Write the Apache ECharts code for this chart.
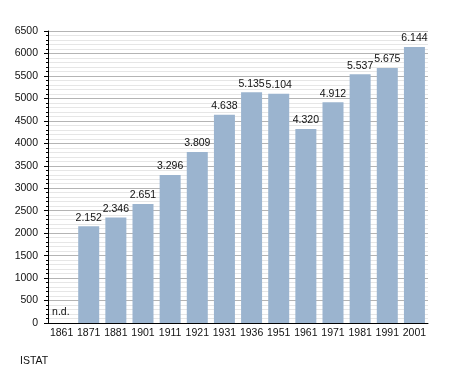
<!DOCTYPE html>
<html><head><meta charset="utf-8">
<script src="https://cdn.jsdelivr.net/npm/echarts@6/dist/echarts.min.js"></script>
<style>html,body{margin:0;padding:0;background:#fff}#c{width:455px;height:373px}</style>
</head><body><div id="c"></div>
<script>
const years = ['1861','1871','1881','1901','1911','1921','1931','1936','1951','1961','1971','1981','1991','2001'];
const population = [null, 2152, 2346, 2651, 3296, 3809, 4638, 5135, 5104, 4320, 4912, 5537, 5675, 6144];
const yTicks = {min: 0, max: 6500, interval: 500};
const source = 'ISTAT';

function fmt(v){ return String(v).replace(/\B(?=(\d{3})+(?!\d))/g, '.'); }

const chart = echarts.init(document.getElementById('c'));
const data = population.map(v => v === null
  ? {value: 0, label: {show: true, formatter: 'n.d.', position: 'insideBottomLeft', offset: [-2, -2]}}
  : v);
chart.setOption({
  animation: false,
  grid: {left: 48, right: 27, top: 31, bottom: 50},
  xAxis: {
    type: 'category', data: years,
    axisLine: {lineStyle: {color: '#000', width: 1}},
    axisTick: {show: false},
    axisLabel: {color: '#111', fontFamily: 'Liberation Sans, Arial, sans-serif', fontSize: 10.5, margin: 5, interval: 0}
  },
  yAxis: {
    type: 'value', min: yTicks.min, max: yTicks.max, interval: yTicks.interval,
    axisLine: {show: true, lineStyle: {color: '#000', width: 1}},
    axisTick: {show: true, length: 4, lineStyle: {color: '#000'}},
    minorTick: {show: true, splitNumber: 5, length: 2, lineStyle: {color: '#000'}},
    splitLine: {lineStyle: {color: '#b4b4b4', width: 1}},
    minorSplitLine: {show: true, lineStyle: {color: '#e6e6e6', width: 1}},
    axisLabel: {color: '#111', fontFamily: 'Liberation Sans, Arial, sans-serif', fontSize: 10.5, margin: 10,
      formatter: v => String(v)}
  },
  series: [{
    type: 'bar', data: data, barWidth: 21,
    itemStyle: {color: '#9bb4cf'},
    label: {show: true, position: 'top', distance: 3, color: '#111',
      fontFamily: 'Liberation Sans, Arial, sans-serif', fontSize: 10.5,
      formatter: p => fmt(p.value)}
  }],
  graphic: [{type: 'text', left: 20, top: 356,
    style: {text: source, fill: '#111', font: '10.5px Liberation Sans, Arial, sans-serif'}}]
});
</script></body></html>
